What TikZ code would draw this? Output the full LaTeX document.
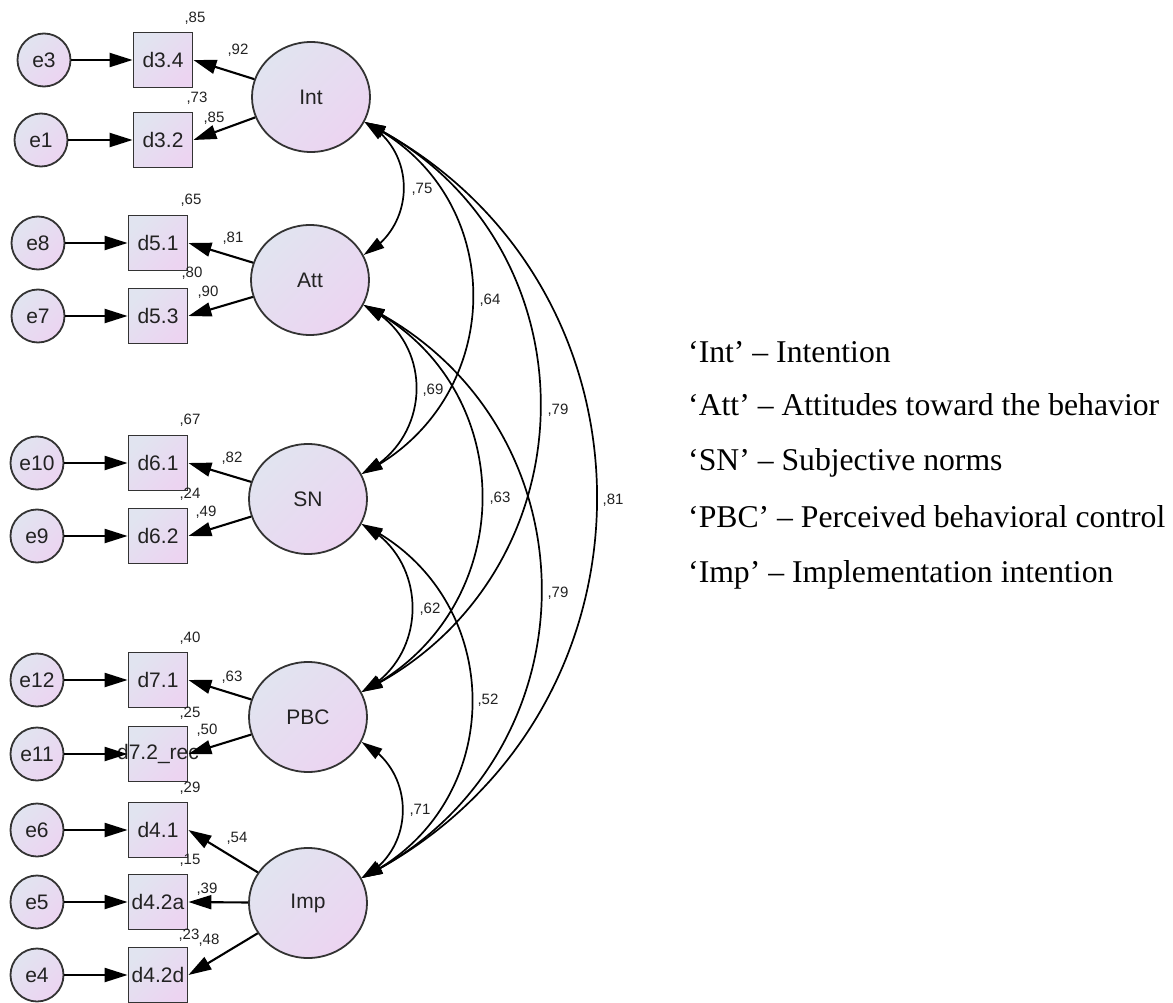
\documentclass[tikz,border=0pt]{standalone}
\usepackage{fontspec}
\setmainfont{Liberation Serif}
\newfontfamily\arialf{Liberation Sans}
\usetikzlibrary{arrows.meta,shapes.geometric,bending}
\definecolor{shA}{HTML}{E1E4F0}
\definecolor{shB}{HTML}{ECD4F1}
\definecolor{edgec}{HTML}{333333}
\definecolor{txtc}{HTML}{222222}
\begin{document}
\begin{tikzpicture}[x=1pt,y=-1pt,
  fillgrad/.style={top color=shA, bottom color=shB, shading angle=45},
  lat/.style={ellipse, draw=edgec, line width=1.8pt, fillgrad, minimum width=118pt, minimum height=110pt, inner sep=0pt, text=txtc, font=\arialf\fontsize{21}{21}\selectfont},
  err/.style={circle, draw=edgec, line width=1.8pt, fillgrad, minimum size=53pt, inner sep=0pt, text=txtc, font=\arialf\fontsize{21}{21}\selectfont},
  obs/.style={rectangle, draw=edgec, line width=1.8pt, fillgrad, minimum width=59pt, minimum height=55pt, inner sep=0pt, text=txtc, font=\arialf\fontsize{21}{21}\selectfont},
  arr/.style={-{Triangle[length=23pt,width=14pt]}, line width=2.1pt, black},
  cor/.style={{Triangle[length=21pt,width=12pt]}-{Triangle[length=21pt,width=12pt]}, line width=1.7pt, black},
  sm/.style={font=\arialf\fontsize{15}{15}\selectfont, inner sep=0pt, text=txtc},
  leg/.style={font=\fontsize{31.7}{32}\selectfont, anchor=base west, inner sep=0pt}
]
\useasboundingbox (0,0) rectangle (1173,1003);

% latent variables
\node[lat] (Int) at (311,97) {Int};
\node[lat] (Att) at (310,280) {Att};
\node[lat] (SN)  at (308,499) {SN};
\node[lat] (PBC) at (308,717) {PBC};
\node[lat] (Imp) at (308,903) {Imp};

% observed variables
\node[obs] (d34) at (163,60) {d3.4};
\node[obs] (d32) at (163,140) {d3.2};
\node[obs] (d51) at (158,243) {d5.1};
\node[obs] (d53) at (158,316) {d5.3};
\node[obs] (d61) at (158,463) {d6.1};
\node[obs] (d62) at (158,536) {d6.2};
\node[obs] (d71) at (158,680) {d7.1};
\node[obs] (d72) at (158,754) {\makebox[0pt]{d7.2\_rec}};
\node[obs] (d41) at (158,830) {d4.1};
\node[obs] (d42a) at (158,902) {\makebox[0pt]{d4.2a}};
\node[obs] (d42d) at (158,975) {\makebox[0pt]{d4.2d}};

% error terms
\node[err] (e3) at (44,60) {e3};
\node[err] (e1) at (41,140) {e1};
\node[err] (e8) at (38,243) {e8};
\node[err] (e7) at (38,316) {e7};
\node[err] (e10) at (37,463) {e10};
\node[err] (e9) at (37,536) {e9};
\node[err] (e12) at (37,680) {e12};
\node[err] (e11) at (37,754) {e11};
\node[err] (e6) at (37,830) {e6};
\node[err] (e5) at (37,902) {e5};
\node[err] (e4) at (37,975) {e4};

% error arrows
\foreach \e/\d in {e3/d34,e1/d32,e8/d51,e7/d53,e10/d61,e9/d62,e12/d71,e11/d72,e6/d41,e5/d42a,e4/d42d}
  \draw[arr] (\e) -- (\d);

% loadings
\draw[arr] (Int) -- (d34.east);
\draw[arr] (Int) -- (d32.east);
\draw[arr] (Att) -- (d51.east);
\draw[arr] (Att) -- (d53.east);
\draw[arr] (SN) -- (d61.east);
\draw[arr] (SN) -- (d62.east);
\draw[arr] (PBC) -- (d71.east);
\draw[arr] (PBC) -- (d72.east);
\draw[arr] (Imp) -- (d41.east);
\draw[arr] (Imp) -- (d42a.east);
\draw[arr] (Imp) -- (d42d.east);

% covariances
\draw[cor] (Int.-25) .. controls +(53,28) and +(53,-28) .. (Att.25);
\draw[cor] (Int.-25) .. controls +(147,72) and +(147,-72) .. (SN.25);
\draw[cor] (Int.-25) .. controls +(237,115) and +(237,-115) .. (PBC.25);
\draw[cor] (Int.-25) .. controls +(312,156) and +(312,-156) .. (Imp.25);
\draw[cor] (Att.-25) .. controls +(72,34) and +(72,-34) .. (SN.25);
\draw[cor] (Att.-25) .. controls +(160,79) and +(160,-79) .. (PBC.25);
\draw[cor] (Att.-25) .. controls +(239,117) and +(239,-117) .. (Imp.25);
\draw[cor] (SN.-25) .. controls +(68,34) and +(68,-34) .. (PBC.25);
\draw[cor] (SN.-25) .. controls +(148,71) and +(148,-71) .. (Imp.25);
\draw[cor] (PBC.-25) .. controls +(55,28) and +(55,-28) .. (Imp.25);

% small labels
\node[sm] (r1) at (195,18) {,85};
\node[sm] (w1) at (238,50) {,92};
\node[sm] (r2) at (197,98) {,73};
\node[sm] (w2) at (214,118) {,85};
\node[sm] (r3) at (191,200) {,65};
\node[sm] (w3) at (233,238) {,81};
\node[sm] (r4) at (192,273) {,80};
\node[sm] (w4) at (208,292) {,90};
\node[sm] (r5) at (190,420) {,67};
\node[sm] (w5) at (232,458) {,82};
\node[sm] (r6) at (190,494) {,24};
\node[sm] (w6) at (206,512) {,49};
\node[sm] (r7) at (190,638) {,40};
\node[sm] (w7) at (232,677) {,63};
\node[sm] (r8) at (190,713) {,25};
\node[sm] (w8) at (207,730) {,50};
\node[sm] (r9) at (190,788) {,29};
\node[sm] (w9) at (237,838) {,54};
\node[sm] (r10) at (190,860) {,15};
\node[sm] (w10) at (207,889) {,39};
\node[sm] (r11) at (189,935) {,23};
\node[sm] (w11) at (209,940) {,48};

% covariance labels
\node[sm] (c1) at (422,189) {,75};
\node[sm] (c2) at (490,300) {,64};
\node[sm] (c3) at (433,390) {,69};
\node[sm] (c4) at (558,410) {,79};
\node[sm] (c5) at (500,498) {,63};
\node[sm] (c6) at (613,500) {,81};
\node[sm] (c7) at (430,609) {,62};
\node[sm] (c8) at (558,593) {,79};
\node[sm] (c9) at (488,700) {,52};
\node[sm] (c10) at (420,810) {,71};

% legend
\node[leg] (g1) at (688,362) {‘Int’ – Intention};
\node[leg] (g2) at (688,415) {‘Att’ – Attitudes toward the behavior};
\node[leg] (g3) at (688,470) {‘SN’ – Subjective norms};
\node[leg] (g4) at (688,527) {‘PBC’ – Perceived behavioral control};
\node[leg] (g5) at (688,582) {‘Imp’ – Implementation intention};
\end{tikzpicture}
\end{document}
